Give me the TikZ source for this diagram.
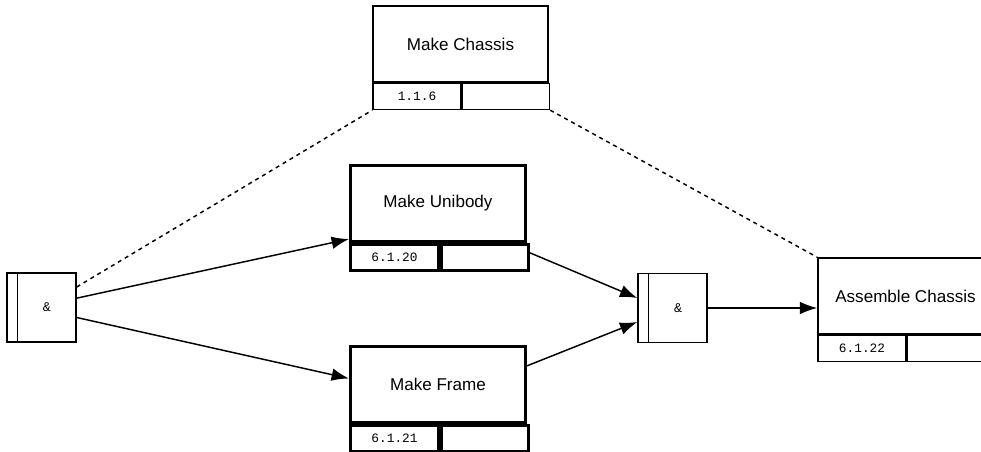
\documentclass[tikz,border=0pt]{standalone}
\usepackage{fontspec}
\setmainfont{Liberation Sans}
\setmonofont{Liberation Mono}
\usetikzlibrary{arrows.meta,positioning}
\tikzset{
  >={Latex[length=13pt,width=9.5pt]},
  {task/.style} ={draw,rectangle,inner sep=0,line width=1.1pt,
                  minimum width=131.25pt,minimum height=57pt,
                  font=\fontsize{12.8}{15}\selectfont},
  {bold task/.style} ={task,line width=2.3pt},
  {id cell/.style} ={draw,rectangle,inner sep=0,line width=1.1pt,
                  minimum width=66pt,minimum height=19.5pt,
                  anchor=north west,font=\ttfamily\fontsize{9.6}{11}\selectfont},
  {empty cell/.style} ={id cell,minimum width=65.25pt},
  {bold cell/.style} ={line width=2.3pt},
  {gate/.style} ={draw,rectangle,inner sep=0,line width=1.1pt,
                  minimum size=51.75pt,font=\ttfamily\fontsize{10}{12}\selectfont},
  {flow/.style} ={->,line width=1.1pt},
  {link/.style} ={dashed,line width=1.1pt},
}
\newcommand{\gatebar}[1]{\draw[line width=1.1pt] ([xshift=8.25pt]#1.north west) -- ([xshift=8.25pt]#1.south west);}
\begin{document}
\begin{tikzpicture}[x=0.75pt,y=-0.75pt]
\useasboundingbox (0,0) rectangle (981,452);
\clip (0,0) rectangle (981,452);
% tasks
\node[task] (chassis) at (460.5,44) {Make Chassis};
\node[id cell] (chassisid) at (chassis.south west) {1.1.6};
\node[empty cell] (chassisx) at (chassisid.north east) {};
\node[bold task] (unibody) at (438,203.5) {Make Unibody};
\node[id cell,bold cell] (unibodyid) at (unibody.south west) {6.1.20};
\node[empty cell,bold cell] (unibodyx) at (unibodyid.north east) {};
\node[bold task] (frame) at (438,384.5) {Make Frame};
\node[id cell,bold cell] (frameid) at (frame.south west) {6.1.21};
\node[empty cell,bold cell] (framex) at (frameid.north east) {};
\node[task] (assemble) at (905.5,296) {Assemble Chassis};
\node[id cell] (assembleid) at (assemble.south west) {6.1.22};
\node[empty cell] (assemblex) at (assembleid.north east) {};
% gates
\node[gate] (split) at (41.5,307.5) {\hspace*{8.25pt}\&};
\gatebar{split}
\node[gate] (join) at (672.5,308) {\hspace*{8.25pt}\&};
\gatebar{join}
% connectors
\draw[link] ([yshift=15.4pt]split.east) -- (chassisid.south west);
\draw[link] (chassisx.south east) -- (assemble.north west);
\draw[flow] ([yshift=7pt]split.east) -- ([yshift=3pt]unibody.south west);
\draw[flow] ([yshift=-7.5pt]split.east) -- ([yshift=4.5pt]frame.west);
\draw[flow] ([yshift=3.5pt]unibodyx.east) -- ([yshift=7.5pt]join.west);
\draw[flow] ([yshift=14pt]frame.east) -- ([yshift=-10.5pt]join.west);
\draw[flow] (join) -- (assemble.west |- join);
\end{tikzpicture}
\end{document}
